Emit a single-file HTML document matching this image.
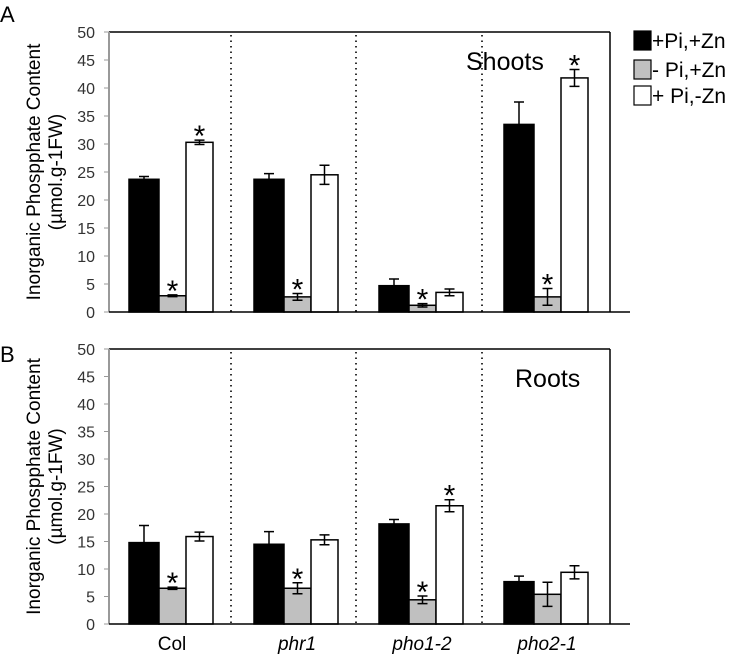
<!DOCTYPE html>
<html><head><meta charset="utf-8"><style>
body{margin:0;background:#fff;font-family:"Liberation Sans",sans-serif}
svg text{font-family:"Liberation Sans",sans-serif}
</style></head><body>
<svg id="c" width="743" height="661" xmlns="http://www.w3.org/2000/svg"></svg>
<script>
const groups=["Col","phr1","pho1-2","pho2-1"];
const shootMeans=[[23.7,2.9,30.3],[23.7,2.7,24.5],[4.7,1.2,3.5],[33.5,2.7,41.8]];
const shootErr=[[0.5,0.15,0.4],[1.0,0.6,1.7],[1.2,0.3,0.6],[4.0,1.5,1.5]];
const shootStar=[[0,1,1],[0,1,0],[0,1,0],[0,1,1]];
const rootMeans=[[14.8,6.5,15.9],[14.5,6.5,15.3],[18.2,4.4,21.5],[7.7,5.4,9.4]];
const rootErr=[[3.1,0.2,0.8],[2.3,1.0,0.9],[0.8,0.7,1.1],[1.0,2.2,1.2]];
const rootStar=[[0,1,0],[0,1,0],[0,1,1],[0,0,0]];
const yTicks=[0,5,10,15,20,25,30,35,40,45,50];
const seriesNames=["+Pi,+Zn","- Pi,+Zn","+ Pi,-Zn"];
const fills=["#000","#c0c0c0","#fff"];
const svg=document.getElementById('c');
const NS="http://www.w3.org/2000/svg";
function mk(tag,a,parent){const e=document.createElementNS(NS,tag);for(const k in a)e.setAttribute(k,a[k]);(parent||svg).appendChild(e);return e;}
const X0=109,X1=610;
const barOff=[20,50,77],barW=[30,27,27];
function gx(i){return 129+125*i-20;}
function panel(name,top,bot,means,errs,stars,title,tx,ty){
  const g=mk('g',{});
  
  
  const y=v=>bot-(v/50)*(bot-top);
  mk('line',{x1:X0,y1:top,x2:X1,y2:top,stroke:'#000','stroke-width':1.5},g);
  mk('line',{x1:X1,y1:top,x2:X1,y2:bot,stroke:'#000','stroke-width':1.5},g);
  mk('line',{x1:X0,y1:top,x2:X0,y2:bot,stroke:'#999','stroke-width':2},g);
  yTicks.forEach(t=>{
    mk('line',{x1:X0-5,y1:y(t),x2:X0,y2:y(t),stroke:'#999','stroke-width':1},g);
    const tl=mk('text',{x:X0-14,y:y(t)+6,'text-anchor':'end','font-size':16,fill:'#333'},g);
    
    
    tl.textContent=t;
  });
  [231,356,482].forEach(xx=>mk('line',{x1:xx,y1:top+3,x2:xx,y2:bot,stroke:'#333','stroke-width':2,'stroke-dasharray':'1.5,4'},g));
  means.forEach((row,i)=>row.forEach((v,s)=>{
    const x=gx(i)+barOff[s],w=barW[s];
    const b=mk('rect',{x:x,y:y(v),width:w,height:bot-y(v),fill:fills[s],stroke:'#000','stroke-width':1.5},g);
    
    
    const cx=x+w/2,e=errs[i][s];
    mk('path',{d:`M${cx} ${y(v+e)}V${y(v-e)}M${cx-5} ${y(v+e)}H${cx+5}M${cx-5} ${y(v-e)}H${cx+5}`,stroke:'#000','stroke-width':1.5,fill:'none'},g);
    if(stars[i][s]){const st=mk('text',{x:cx,y:y(v+e)+6,'text-anchor':'middle','font-size':30,fill:'#000'},g);
      
      
      st.textContent='*';}
  }));
  mk('line',{x1:X0,y1:bot,x2:X1+20,y2:bot,stroke:'#000','stroke-width':1.5},g);
  const t=mk('text',{x:tx,y:ty,'font-size':25,fill:'#000'},g);
  
  
  t.textContent=title;
  const yt=mk('text',{transform:`translate(40,${(top+bot)/2}) rotate(-90)`,'text-anchor':'middle','font-size':19,fill:'#000'},g);
  
  
  yt.textContent='Inorganic Phospphate Content';
  const yt2=mk('text',{transform:`translate(62,${(top+bot)/2}) rotate(-90)`,'text-anchor':'middle','font-size':19,fill:'#000'},g);
  
  
  yt2.textContent='(µmol.g-1FW)';
}
panel('shoots-panel',32,312,shootMeans,shootErr,shootStar,'Shoots',466,70);
panel('roots-panel',349,624,rootMeans,rootErr,rootStar,'Roots',515,387);
const A=mk('text',{x:0,y:22,'font-size':22});A.textContent='A';
const B=mk('text',{x:0,y:362,'font-size':22});B.textContent='B';
groups.forEach((g,i)=>{
  const t=mk('text',{x:gx(i)+63,y:650,'text-anchor':'middle','font-size':19,'font-style':i?'italic':'normal'});
  
  
  t.textContent=g;
});
const ly=[31,60,86];
seriesNames.forEach((n,s)=>{
  const r=mk('rect',{x:634,y:ly[s],width:17,height:19,fill:fills[s],stroke:'#000','stroke-width':1.2});
  
  
  const t=mk('text',{x:652,y:ly[s]+17,'font-size':21});
  
  
  t.textContent=n;
});
</script>
</body></html>
